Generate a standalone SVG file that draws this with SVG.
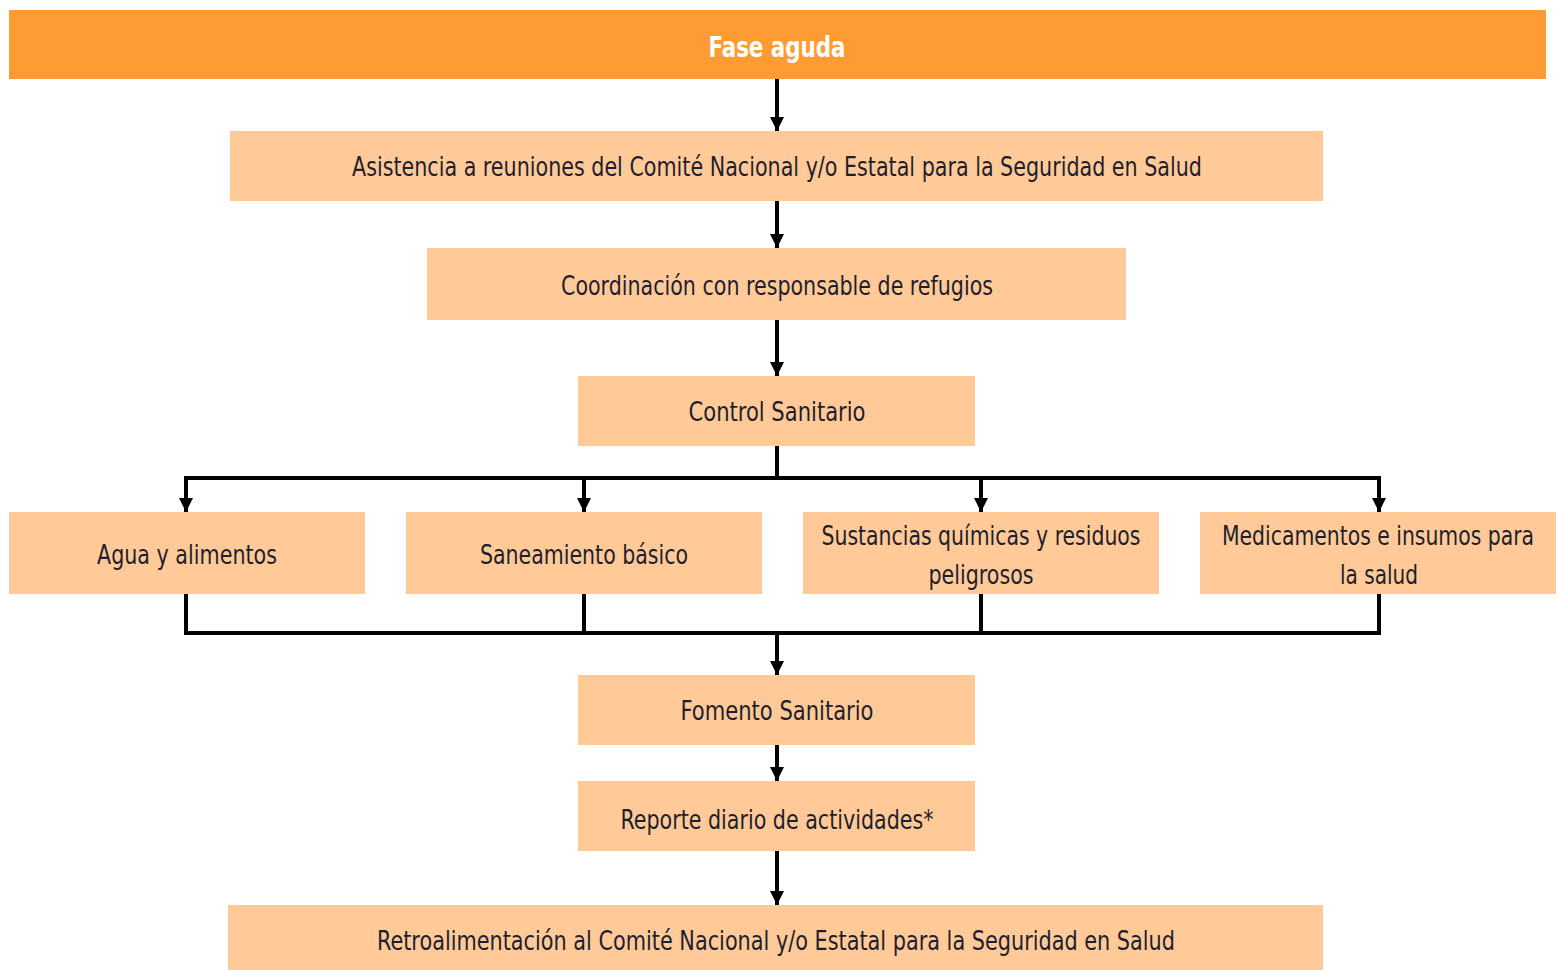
<svg xmlns="http://www.w3.org/2000/svg" width="1556" height="970" viewBox="0 0 1556 970">
<defs>
<style>
.box{fill:#FFCA97;}
.hdr{fill:#FF9B33;}
.t{font-family:"Liberation Sans Narrow","DejaVu Sans Condensed","Liberation Sans",sans-serif;font-size:26px;fill:#1e1e2e;text-anchor:middle;}
.th{font-family:"Liberation Sans Narrow","DejaVu Sans Condensed","Liberation Sans",sans-serif;font-size:28px;font-weight:bold;fill:#ffffff;text-anchor:middle;}
.c{fill:none;stroke:#000;stroke-width:4;}
</style>
<marker id="ad" markerWidth="14" markerHeight="14" viewBox="0 0 14 14" refX="14" refY="7" orient="auto" markerUnits="userSpaceOnUse">
<path d="M0,0 L14,7 L0,14 Z" fill="#000"/>
</marker>
</defs>
<rect width="1556" height="970" fill="#fff"/>
<g id="connectors">
<path class="c" d="M777,79 V131" marker-end="url(#ad)"/>
<path class="c" d="M777,201 V248" marker-end="url(#ad)"/>
<path class="c" d="M777,320 V376" marker-end="url(#ad)"/>
<path class="c" d="M777,446 V478"/>
<path class="c" d="M186,512 V478 H1379 V512"/>
<path class="c" d="M186,478 V512" marker-end="url(#ad)"/>
<path class="c" d="M584,478 V512" marker-end="url(#ad)"/>
<path class="c" d="M981,478 V512" marker-end="url(#ad)"/>
<path class="c" d="M1379,478 V512" marker-end="url(#ad)"/>
<path class="c" d="M186,594 V633 H1379 V594"/>
<path class="c" d="M584,594 V633"/>
<path class="c" d="M981,594 V633"/>
<path class="c" d="M777,633 V675" marker-end="url(#ad)"/>
<path class="c" d="M777,745 V781" marker-end="url(#ad)"/>
<path class="c" d="M777,851 V905" marker-end="url(#ad)"/>
</g>
<g id="fase">
<rect class="hdr" x="9" y="10" width="1537" height="69"/>
<text class="th" x="777" y="57" textLength="137" lengthAdjust="spacingAndGlyphs">Fase aguda</text>
</g>
<g id="asistencia">
<rect class="box" x="230" y="131" width="1093" height="70"/>
<text class="t" x="777" y="176" textLength="850" lengthAdjust="spacingAndGlyphs">Asistencia a reuniones del Comité Nacional y/o Estatal para la Seguridad en Salud</text>
</g>
<g id="coordinacion">
<rect class="box" x="427" y="248" width="699" height="72"/>
<text class="t" x="777" y="295" textLength="432" lengthAdjust="spacingAndGlyphs">Coordinación con responsable de refugios</text>
</g>
<g id="control">
<rect class="box" x="578" y="376" width="397" height="70"/>
<text class="t" x="777" y="421" textLength="177" lengthAdjust="spacingAndGlyphs">Control Sanitario</text>
</g>
<g id="agua">
<rect class="box" x="9" y="512" width="356" height="82"/>
<text class="t" x="187" y="564" textLength="180" lengthAdjust="spacingAndGlyphs">Agua y alimentos</text>
</g>
<g id="saneamiento">
<rect class="box" x="406" y="512" width="356" height="82"/>
<text class="t" x="584" y="564" textLength="208" lengthAdjust="spacingAndGlyphs">Saneamiento básico</text>
</g>
<g id="sustancias">
<rect class="box" x="803" y="512" width="356" height="82"/>
<text class="t" x="981" y="545" textLength="319" lengthAdjust="spacingAndGlyphs">Sustancias químicas y residuos</text>
<text class="t" x="981" y="584" textLength="105" lengthAdjust="spacingAndGlyphs">peligrosos</text>
</g>
<g id="medicamentos">
<rect class="box" x="1200" y="512" width="356" height="82"/>
<text class="t" x="1378" y="545" textLength="312" lengthAdjust="spacingAndGlyphs">Medicamentos e insumos para</text>
<text class="t" x="1379" y="584" textLength="78" lengthAdjust="spacingAndGlyphs">la salud</text>
</g>
<g id="fomento">
<rect class="box" x="578" y="675" width="397" height="70"/>
<text class="t" x="777" y="720" textLength="193" lengthAdjust="spacingAndGlyphs">Fomento Sanitario</text>
</g>
<g id="reporte">
<rect class="box" x="578" y="781" width="397" height="70"/>
<text class="t" x="777" y="829" textLength="313" lengthAdjust="spacingAndGlyphs">Reporte diario de actividades*</text>
</g>
<g id="retro">
<rect class="box" x="228" y="905" width="1095" height="65"/>
<text class="t" x="776" y="950" textLength="798" lengthAdjust="spacingAndGlyphs">Retroalimentación al Comité Nacional y/o Estatal para la Seguridad en Salud</text>
</g>
</svg>
